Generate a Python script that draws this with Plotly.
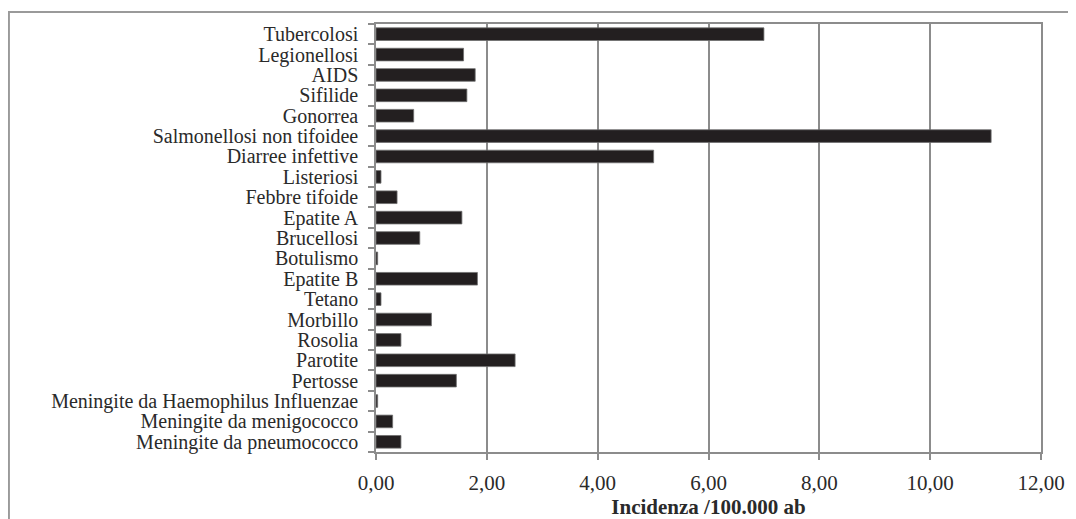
import plotly.graph_objects as go

categories = [
    "Tubercolosi", "Legionellosi", "AIDS", "Sifilide", "Gonorrea",
    "Salmonellosi non tifoidee", "Diarree infettive", "Listeriosi",
    "Febbre tifoide", "Epatite A", "Brucellosi", "Botulismo", "Epatite B",
    "Tetano", "Morbillo", "Rosolia", "Parotite", "Pertosse",
    "Meningite da Haemophilus Influenzae", "Meningite da menigococco",
    "Meningite da pneumococco",
]
values = [
    7.00, 1.58, 1.79, 1.64, 0.68,
    11.10, 5.01, 0.09,
    0.38, 1.55, 0.79, 0.03, 1.83,
    0.09, 1.00, 0.45, 2.51, 1.45,
    0.03, 0.30, 0.45,
]
x_ticks = [0, 2, 4, 6, 8, 10, 12]
x_tick_labels = ["0,00", "2,00", "4,00", "6,00", "8,00", "10,00", "12,00"]
x_title = "Incidenza /100.000 ab"

FONT = "Liberation Serif, Times New Roman, serif"
TEXT = "#2a2a2a"
GRID = "#8c8c8c"

fig = go.Figure(
    go.Bar(
        x=values,
        y=categories,
        orientation="h",
        marker=dict(color="#231f20", line=dict(color="#6e6e6e", width=0.8)),
    )
)

fig.update_layout(
    width=1068,
    height=511,
    margin=dict(l=368, r=35, t=16, b=67, autoexpand=False),
    paper_bgcolor="white",
    plot_bgcolor="white",
    showlegend=False,
    bargap=0.38,
    font=dict(family=FONT, size=21, color=TEXT),
    shapes=[
        dict(
            type="rect", xref="paper", yref="paper",
            x0=-0.552, x1=1.3, y0=-0.5, y1=1.028,
            line=dict(color="#9a9a9a", width=2),
            fillcolor="rgba(0,0,0,0)", layer="below",
        )
    ],
)

fig.update_xaxes(
    automargin=False,
    range=[0, 12],
    tickmode="array",
    tickvals=x_ticks,
    ticktext=x_tick_labels,
    showgrid=True,
    gridcolor=GRID,
    gridwidth=1.5,
    zeroline=False,
    showline=True,
    linecolor=GRID,
    linewidth=1.5,
    mirror=True,
    ticks="outside",
    ticklen=6,
    tickcolor=GRID,
    tickwidth=1.5,
    ticklabelstandoff=5,
    tickfont=dict(family=FONT, size=21, color=TEXT),
    title=dict(
        text="<b>" + x_title + "</b>",
        font=dict(family=FONT, size=21, color=TEXT),
        standoff=0,
    ),
)

fig.update_yaxes(
    automargin=False,
    type="category",
    categoryorder="array",
    categoryarray=categories,
    tickmode="array",
    tickvals=categories,
    ticktext=categories,
    autorange="reversed",
    showgrid=False,
    showline=True,
    linecolor=GRID,
    linewidth=1.5,
    mirror=True,
    ticks="outside",
    tickson="boundaries",
    ticklen=6,
    tickcolor=GRID,
    tickwidth=1.5,
    ticklabelstandoff=12,
    tickfont=dict(family=FONT, size=20, color=TEXT),
)

fig.write_html("out.html")
